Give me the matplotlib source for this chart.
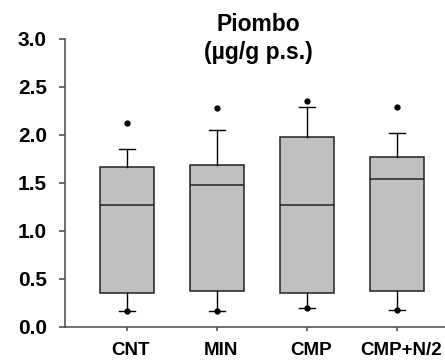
import matplotlib
matplotlib.use("Agg")
import matplotlib.pyplot as plt
from matplotlib.transforms import ScaledTranslation

plt.rcParams['font.family'] = ['Liberation Sans', 'DejaVu Sans']
plt.rcParams['font.weight'] = 'bold'

groups = ['CNT', 'MIN', 'CMP', 'CMP+N/2']
q1 = [0.346, 0.374, 0.346, 0.367]
med = [1.265, 1.474, 1.265, 1.540]
q3 = [1.668, 1.686, 1.981, 1.773]
whislo = [0.158, 0.162, 0.195, 0.174]
whishi = [1.853, 2.048, 2.294, 2.020]
out_hi = [2.124, 2.274, 2.357, 2.294]
out_lo = [0.162, 0.162, 0.196, 0.172]

stats = []
for i, g in enumerate(groups):
    stats.append({'label': g, 'q1': q1[i], 'med': med[i], 'q3': q3[i],
                  'whislo': whislo[i], 'whishi': whishi[i],
                  'fliers': [out_lo[i], out_hi[i]]})

fig = plt.figure(figsize=(4.45, 3.6), dpi=100)
ax = fig.add_axes([0.146, 0.093, 0.884, 0.799])

ax.bxp(stats, positions=[1, 2, 3, 4], widths=0.6, patch_artist=True,
       boxprops=dict(facecolor='#c0c0c0', edgecolor='#222222', linewidth=1.1),
       medianprops=dict(color='#222222', linewidth=1.1),
       whiskerprops=dict(color='black', linewidth=1.0),
       capprops=dict(color='black', linewidth=1.0),
       capwidths=0.18,
       flierprops=dict(marker='o', markerfacecolor='black', markeredgecolor='black',
                       markersize=3.5))

ax.set_xlim(0.314, 4.686)
ax.set_ylim(0, 3.0)
ax.set_yticks([0.0, 0.5, 1.0, 1.5, 2.0, 2.5, 3.0])
ax.set_yticklabels(['0.0', '0.5', '1.0', '1.5', '2.0', '2.5', '3.0'])
ax.set_xticks([1, 2, 3, 4])
ax.set_xticklabels(groups)

for s in ['top', 'right']:
    ax.spines[s].set_visible(False)
for s in ['left', 'bottom']:
    ax.spines[s].set_color('#555555')
    ax.spines[s].set_linewidth(1.2)

ax.tick_params(axis='y', direction='out', length=4, width=1.2, color='#555555',
               labelsize=15, pad=9)
ax.tick_params(axis='x', direction='out', length=3, width=1.2, color='#555555',
               labelsize=13.5, pad=8)
shift = ScaledTranslation(4 / 100, 0, fig.dpi_scale_trans)
for lab in ax.get_xticklabels():
    lab.set_fontweight('bold')
    lab.set_transform(lab.get_transform() + shift)
for lab in ax.get_yticklabels():
    lab.set_fontweight('bold')

fig.text(0.58, 0.893, 'Piombo\n(µg/g p.s.)', ha='center', va='center',
         fontsize=16.5, fontweight='bold', linespacing=1.3)

fig.savefig('out.png', dpi=100)
